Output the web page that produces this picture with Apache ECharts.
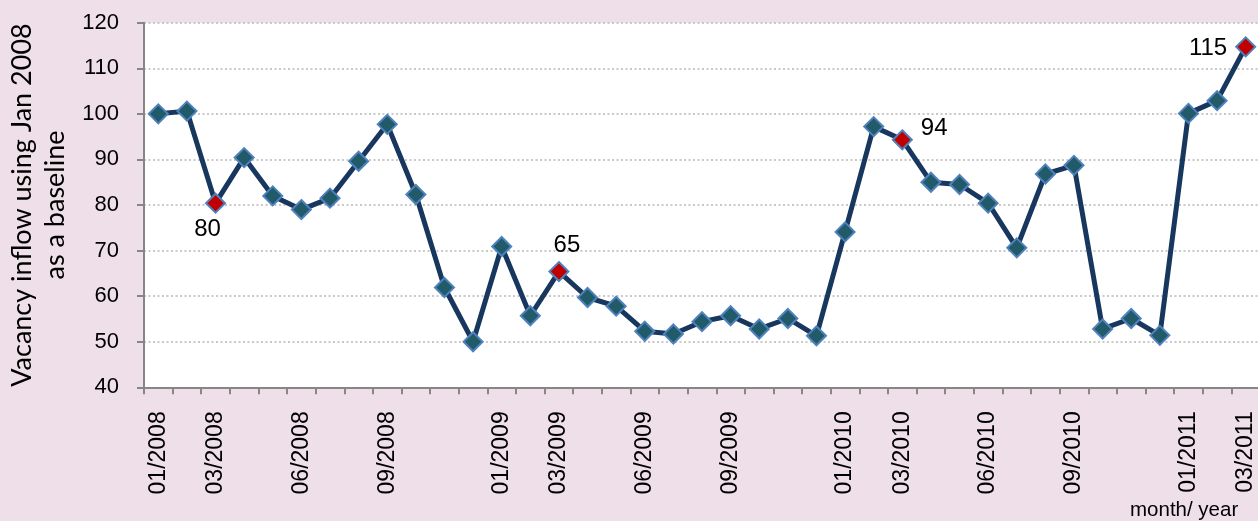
<!DOCTYPE html>
<html>
<head>
<meta charset="utf-8">
<script src="https://cdn.jsdelivr.net/npm/echarts@6/dist/echarts.min.js"></script>
<style>
  html, body { margin: 0; padding: 0; background: #efdfe9; }
  #main { width: 1258px; height: 521px; }
</style>
</head>
<body>
<div id="main"></div>
<script>
// months on the x axis
var months = [
  '01/2008', '02/2008', '03/2008', '04/2008', '05/2008', '06/2008',
  '07/2008', '08/2008', '09/2008', '10/2008', '11/2008', '12/2008',
  '01/2009', '02/2009', '03/2009', '04/2009', '05/2009', '06/2009',
  '07/2009', '08/2009', '09/2009', '10/2009', '11/2009', '12/2009',
  '01/2010', '02/2010', '03/2010', '04/2010', '05/2010', '06/2010',
  '07/2010', '08/2010', '09/2010', '10/2010', '11/2010', '12/2010',
  '01/2011', '02/2011', '03/2011'
];
// vacancy inflow, Jan 2008 = 100
var inflow = [
  100.0, 100.6, 80.4, 90.4, 82.0, 79.0, 81.5, 89.6, 97.7, 82.3, 61.9, 50.0,
  70.9, 55.7, 65.4, 59.7, 57.8, 52.3, 51.7, 54.4, 55.7, 52.8, 55.1, 51.3,
  74.1, 97.2, 94.3, 85.0, 84.5, 80.4, 70.6, 86.8, 88.7, 52.8, 55.1, 51.4,
  100.1, 102.9, 114.7
];
// months that get a tick label
var shownMonths = [
  '01/2008', '03/2008', '06/2008', '09/2008', '01/2009', '03/2009', '06/2009',
  '09/2009', '01/2010', '03/2010', '06/2010', '09/2010', '01/2011', '03/2011'
];
// highlighted points
var highlighted = ['03/2008', '03/2009', '03/2010', '03/2011'];

var myChart = echarts.init(document.getElementById('main'));

// where the value label sits for each highlighted point
var calloutLabel = {
  '03/2008': { position: 'bottom', distance: 4, offset: [-8, 0] },
  '03/2009': { position: 'top', distance: 4, offset: [8, 0] },
  '03/2010': { position: 'right', distance: 8, offset: [0, -11] },
  '03/2011': { position: 'left', distance: 8, offset: [0, 2] }
};

var seriesData = [];
for (var i = 0; i < months.length; i++) {
  if (highlighted.indexOf(months[i]) >= 0) {
    var lab = calloutLabel[months[i]];
    seriesData.push({
      value: inflow[i],
      itemStyle: { color: '#c00000' },
      label: {
        show: true,
        position: lab.position,
        distance: lab.distance,
        offset: lab.offset,
        formatter: function (p) { return Math.round(p.value); },
        color: '#000',
        fontFamily: '"Liberation Sans", Arial, sans-serif',
        fontSize: 24
      }
    });
  } else {
    seriesData.push(inflow[i]);
  }
}

var option = {
  backgroundColor: '#efdfe9',
  animation: false,
  grid: {
    left: 144,
    top: 22.7,
    width: 1116,
    height: 364.6,
    outerBoundsMode: 'none',
    containLabel: false,
    show: true,
    backgroundColor: '#ffffff',
    borderWidth: 0
  },
  xAxis: {
    type: 'category',
    data: months,
    boundaryGap: true,
    axisLine: { lineStyle: { color: '#868686', width: 2 } },
    axisTick: { show: true, interval: 0, length: 7, lineStyle: { color: '#868686', width: 2 } },
    axisLabel: {
      interval: function (idx, val) { return shownMonths.indexOf(val) >= 0; },
      rotate: 90,
      margin: 24,
      color: '#000',
      fontFamily: '"Liberation Sans", Arial, sans-serif',
      fontSize: 23
    },
    splitLine: { show: false }
  },
  yAxis: {
    type: 'value',
    min: 40,
    max: 120,
    interval: 10,
    name: 'Vacancy inflow using Jan 2008\nas a baseline',
    nameLocation: 'middle',
    nameRotate: 90,
    nameGap: 71,
    nameTextStyle: {
      color: '#000',
      fontFamily: 'Lato, sans-serif',
      fontSize: 27,
      lineHeight: 33
    },
    axisLine: { show: true, lineStyle: { color: '#868686', width: 2 } },
    axisTick: { show: true, length: 7, lineStyle: { color: '#868686', width: 2 } },
    axisLabel: {
      margin: 25,
      color: '#000',
      fontFamily: '"Liberation Sans", Arial, sans-serif',
      fontSize: 22
    },
    splitLine: {
      show: true,
      lineStyle: { color: '#b8b8b8', width: 1.5, type: [2, 2.5] }
    }
  },
  graphic: [
    {
      type: 'text',
      left: 1130,
      top: 500,
      style: {
        text: 'month/ year',
        fill: '#000',
        font: '20.5px "Liberation Sans", Arial, sans-serif'
      }
    }
  ],
  series: [
    {
      name: 'inflow',
      type: 'line',
      data: seriesData,
      symbol: 'diamond',
      symbolSize: 19,
      showAllSymbol: true,
      lineStyle: { color: '#17375e', width: 5 },
      itemStyle: { color: '#215a69', borderColor: '#4f81bd', borderWidth: 2 },
      emphasis: { disabled: true }
    }
  ]
};

myChart.setOption(option);
</script>
</body>
</html>
